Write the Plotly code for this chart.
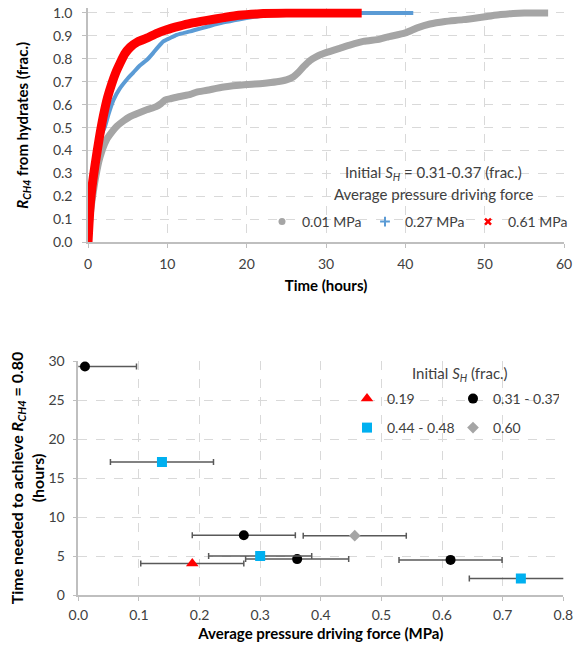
import plotly.graph_objects as go

# ---------------- Top chart data (Time in hours vs R_CH4) ----------------
t_001 = [0, 0.25, 0.5, 1.0, 1.5, 2.3, 3.0, 3.6, 4.5, 5.3, 6.3, 7.4, 8.6, 9.2, 9.7, 10.5,
         11.6, 12.9, 13.7, 15, 17.1, 20, 22, 23.8, 25, 25.9, 26.5, 27.2, 28, 28.8, 30,
         31.8, 33, 34.7, 36.8, 37.7, 40, 41.5, 43.1, 45, 47.3, 50.3, 52, 53.6, 55, 58]
r_001 = [0, 0.11, 0.18, 0.29, 0.37, 0.445, 0.48, 0.505, 0.53, 0.548, 0.563, 0.578, 0.592,
         0.605, 0.62, 0.627, 0.636, 0.645, 0.655, 0.663, 0.677, 0.688, 0.693, 0.70, 0.708,
         0.722, 0.74, 0.767, 0.793, 0.81, 0.827, 0.847, 0.86, 0.876, 0.886, 0.895, 0.913,
         0.935, 0.952, 0.963, 0.971, 0.985, 0.993, 0.998, 1.0, 1.0]

t_027 = [0, 0.5, 1.0, 1.5, 2.14, 2.6, 3.2, 4.0, 4.9, 5.7, 6.5, 7.4, 8.2, 8.8, 9.5, 10.3,
         11.2, 12.9, 13.7, 15, 17.1, 19, 21.3, 23, 25.5, 30, 41]
r_027 = [0, 0.2, 0.36, 0.45, 0.505, 0.56, 0.62, 0.67, 0.71, 0.74, 0.77, 0.795, 0.825, 0.85,
         0.876, 0.89, 0.905, 0.92, 0.928, 0.94, 0.959, 0.972, 0.985, 0.993, 1.0, 1.0, 1.0]

t_061 = [0, 0.25, 0.5, 0.9, 1.4, 1.93, 2.45, 2.98, 3.5, 4.03, 4.6, 5.3, 6.3, 7.4, 8.6, 9.9,
         11.5, 12.9, 15, 17.1, 19, 21.3, 25, 34.5]
r_061 = [0, 0.15, 0.24, 0.34, 0.45, 0.55, 0.63, 0.69, 0.74, 0.78, 0.82, 0.85, 0.875, 0.89,
         0.91, 0.927, 0.943, 0.955, 0.968, 0.98, 0.99, 0.996, 1.0, 1.0]

top_series_names = ["0.01 MPa", "0.27 MPa", "0.61 MPa"]
top_x_ticks = [0, 10, 20, 30, 40, 50, 60]
top_y_ticks = [0.0, 0.1, 0.2, 0.3, 0.4, 0.5, 0.6, 0.7, 0.8, 0.9, 1.0]

# ---------------- Bottom chart data ----------------
sh019_x = [0.188]
sh019_y = [4.05]
sh031_x = [0.011, 0.273, 0.361, 0.614]
sh031_y = [29.3, 7.65, 4.6, 4.5]
sh044_x = [0.138, 0.300, 0.730]
sh044_y = [17.05, 5.0, 2.1]
sh060_x = [0.456]
sh060_y = [7.6]
pressure_err = 0.085
bottom_names = ["0.19", "0.31 - 0.37", "0.44 - 0.48", "0.60"]
bottom_x_ticks = [0.0, 0.1, 0.2, 0.3, 0.4, 0.5, 0.6, 0.7, 0.8]
bottom_y_ticks = [0, 5, 10, 15, 20, 25, 30]

W, H = 574, 645
FONT = "Lato"
TICK_COLOR = "#404040"
GRID = "#D9D9D9"
AXIS = "#BFBFBF"

def px_x(p):
    return p / W

def px_y(p):
    return 1 - p / H

fig = go.Figure()

# top chart lines
for tx, ry, col, w in [(t_001, r_001, "#A5A5A5", 7),
                       (t_027, r_027, "#5B9BD5", 4),
                       (t_061, r_061, "#FF0000", 9)]:
    fig.add_trace(go.Scatter(x=tx, y=ry, mode="lines", line=dict(color=col, width=w, shape="spline", smoothing=0.6),
                             showlegend=False, xaxis="x", yaxis="y", hoverinfo="skip"))

# top legend entries
fig.add_trace(go.Scatter(x=[None], y=[None], mode="markers", name=top_series_names[0],
                         marker=dict(symbol="circle", size=7, color="#A5A5A5"), legend="legend"))
fig.add_trace(go.Scatter(x=[None], y=[None], mode="markers", name=top_series_names[1],
                         marker=dict(symbol="cross-thin", size=7, line=dict(color="#5B9BD5", width=2)), legend="legend"))
fig.add_trace(go.Scatter(x=[None], y=[None], mode="markers", name=top_series_names[2],
                         marker=dict(symbol="x-thin", size=6, line=dict(color="#FF0000", width=2.5)), legend="legend"))

# bottom chart
err_style = dict(type="constant", value=pressure_err, color="#595959", thickness=1.5, width=3)
fig.add_trace(go.Scatter(x=sh019_x, y=sh019_y, mode="markers", name=bottom_names[0],
                         marker=dict(symbol="triangle-up", size=11, color="#FF0000"),
                         error_x=err_style, xaxis="x2", yaxis="y2", legend="legend2"))
fig.add_trace(go.Scatter(x=sh031_x, y=sh031_y, mode="markers", name=bottom_names[1],
                         marker=dict(symbol="circle", size=10, color="#000000"),
                         error_x=err_style, xaxis="x2", yaxis="y2", legend="legend2"))
fig.add_trace(go.Scatter(x=sh044_x, y=sh044_y, mode="markers", name=bottom_names[2],
                         marker=dict(symbol="square", size=10, color="#00B0F0"),
                         error_x=err_style, xaxis="x2", yaxis="y2", legend="legend3"))
fig.add_trace(go.Scatter(x=sh060_x, y=sh060_y, mode="markers", name=bottom_names[3],
                         marker=dict(symbol="diamond", size=9, color="#A5A5A5"),
                         error_x=err_style, xaxis="x2", yaxis="y2", legend="legend3"))

axis_common = dict(showline=True, linecolor=AXIS, linewidth=1.5, showgrid=True, gridcolor=GRID,
                   griddash="dash", gridwidth=1, ticks="outside", ticklen=4, tickcolor=AXIS,
                   tickfont=dict(family=FONT, size=14, color=TICK_COLOR), zeroline=False)

title_font = dict(family=FONT, size=15, color="#000000")

fig.update_layout(
    width=W, height=H, margin=dict(l=0, r=0, t=0, b=0, autoexpand=False),
    paper_bgcolor="white", plot_bgcolor="white",
    font=dict(family=FONT, color=TICK_COLOR),
    xaxis=dict(domain=[px_x(88), px_x(564)], range=[0, 60], tickvals=top_x_ticks, anchor="y",
               ticklabelstandoff=4,
               title=dict(text="<b>Time (hours)</b>", font=title_font, standoff=10), **axis_common),
    yaxis=dict(domain=[px_y(242.3), px_y(13 - 4.6)], range=[0, 1.02], tickvals=top_y_ticks, tickformat=".1f",
               anchor="x", ticklabelstandoff=7,
               title=dict(text="<b><i>R<sub>CH4</sub></i> from hydrates (frac.)</b>", font=title_font, standoff=21),
               **axis_common),
    xaxis2=dict(domain=[px_x(78.3), px_x(563.3)], range=[0, 0.8], tickvals=bottom_x_ticks, tickformat=".1f",
                anchor="y2", ticklabelstandoff=2,
                title=dict(text="<b>Average pressure driving force (MPa)</b>", font=title_font, standoff=7),
                **axis_common),
    yaxis2=dict(domain=[px_y(595), px_y(361)], range=[0, 30], tickvals=bottom_y_ticks, anchor="x2",
                ticklabelstandoff=5,
                title=dict(text="<b>Time needed to achieve <i>R<sub>CH4</sub></i> = 0.80<br>(hours)</b>",
                           font=dict(family=FONT, size=16, color="#000000"), standoff=0),
                **axis_common),
    legend=dict(orientation="h", x=px_x(262), y=px_y(222), xanchor="left", yanchor="middle",
                font=dict(family=FONT, size=14, color=TICK_COLOR), bgcolor="rgba(255,255,255,0)",
                itemwidth=30, tracegroupgap=0, entrywidth=58),
    legend2=dict(orientation="h", x=px_x(347), y=px_y(399), xanchor="left", yanchor="middle",
                 font=dict(family=FONT, size=14, color=TICK_COLOR), bgcolor="rgba(255,255,255,0)",
                 itemwidth=30, entrywidth=61),
    legend3=dict(orientation="h", x=px_x(347), y=px_y(428), xanchor="left", yanchor="middle",
                 font=dict(family=FONT, size=14, color=TICK_COLOR), bgcolor="rgba(255,255,255,0)",
                 itemwidth=30, entrywidth=61),
    shapes=[dict(type="rect", xref="paper", yref="paper", x0=px_x(355), x1=px_x(566),
                 y0=px_y(437), y1=px_y(355), fillcolor="white", line=dict(width=0), layer="between")],
    annotations=[
        dict(text="Initial <i>S<sub>H</sub></i> = 0.31-0.37 (frac.)", x=px_x(433), y=px_y(173), xref="paper", yref="paper",
             showarrow=False, font=dict(family=FONT, size=15, color=TICK_COLOR), xanchor="center", yanchor="middle"),
        dict(text="Average pressure driving force", x=px_x(433), y=px_y(194), xref="paper", yref="paper",
             showarrow=False, font=dict(family=FONT, size=15, color=TICK_COLOR), xanchor="center", yanchor="middle"),
        dict(text="Initial <i>S<sub>H</sub></i> (frac.)", x=px_x(460), y=px_y(374), xref="paper", yref="paper",
             showarrow=False, font=dict(family=FONT, size=15, color=TICK_COLOR), xanchor="center", yanchor="middle"),
    ],
)

fig.write_html("out.html")
